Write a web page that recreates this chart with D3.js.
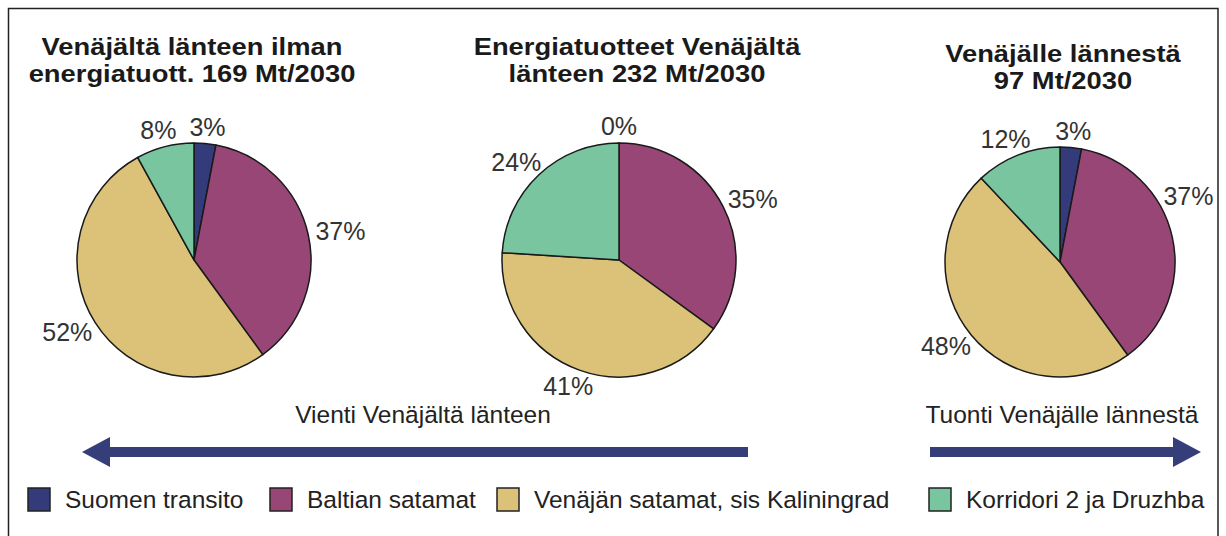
<!DOCTYPE html>
<html>
<head>
<meta charset="utf-8">
<script src="https://cdn.jsdelivr.net/npm/d3@7"></script>
<style>
  body { margin: 0; background: #fff; }
  svg { display: block; font-family: "Liberation Sans", Arial, Helvetica, sans-serif; }
</style>
</head>
<body>
<div id="chart"></div>
<script>
// categories (legend order = slice order clockwise from 12 o'clock)
const categories = ["Suomen transito", "Baltian satamat", "Venäjän satamat, sis Kaliningrad", "Korridori 2 ja Druzhba"];
const colors = ["#343b7a", "#984676", "#dcc278", "#79c5a0"];

// pie titles (two lines each)
const titles = [
  ["Venäjältä länteen ilman", "energiatuott. 169 Mt/2030"],
  ["Energiatuotteet Venäjältä", "länteen 232 Mt/2030"],
  ["Venäjälle lännestä", "97 Mt/2030"]
];

// shares in percent, same order as categories
const westNoEnergy = [3, 37, 52, 8];
const westEnergy = [0, 35, 41, 24];
const eastFromWest = [3, 37, 48, 12];

const arrowLabels = ["Vienti Venäjältä länteen", "Tuonti Venäjälle lännestä"];

const width = 1226, height = 536;
const frameRight = 1218;

const svg = d3.select("#chart").append("svg")
    .attr("width", width)
    .attr("height", height);

// frame
svg.append("rect")
    .attr("x", 8.5).attr("y", 8.5)
    .attr("width", frameRight - 8.5).attr("height", 540)
    .attr("fill", "none")
    .attr("stroke", "#222")
    .attr("stroke-width", 1.5);

const pies = [
  { data: westNoEnergy, cx: 194, cy: 260, r: 117, tx: 192, ty: 55 },
  { data: westEnergy,   cx: 619, cy: 260, r: 117, tx: 637, ty: 55 },
  { data: eastFromWest, cx: 1060, cy: 262, r: 115, tx: 1063, ty: 62 }
];

const pie = d3.pie().sort(null).value((d) => d);

pies.forEach((p, i) => {
  const g = svg.append("g").attr("transform", `translate(${p.cx},${p.cy})`);
  const arc = d3.arc().innerRadius(0).outerRadius(p.r);
  const arcs = pie(p.data);

  g.selectAll("path")
    .data(arcs)
    .enter()
    .append("path")
      .attr("d", arc)
      .attr("fill", (d, j) => colors[j])
      .attr("stroke", "#1a1a1a")
      .attr("stroke-width", 1.5)
      .attr("stroke-linejoin", "round");

  // percent labels outside the slices
  const labels = g.selectAll(".pct")
    .data(arcs)
    .enter()
    .append("text")
      .attr("class", "pct")
      .attr("text-anchor", "middle")
      .attr("font-size", 25)
      .attr("fill", "#333")
      .text((d) => d.data + "%");

  labels.each(function(d) {
    let a = (d.startAngle + d.endAngle) / 2;
    const hw = this.getComputedTextLength() / 2;
    const R = p.r + 8;
    // keep the label inside the frame by sliding it up along the circle
    while (p.cx + Math.sin(a) * (R + hw) + hw > frameRight - 4 && a > 0) a -= 0.01;
    const x = Math.sin(a) * (R + hw);
    const y = -Math.cos(a) * (R + 9);
    d3.select(this).attr("x", x).attr("y", y + 9);
  });

  // title, slightly stretched sideways like the original lettering
  const t = svg.append("g")
      .attr("transform", `translate(${p.tx},0) scale(1.14,1)`)
    .append("text")
      .attr("text-anchor", "middle")
      .attr("font-size", 24)
      .attr("font-weight", "bold")
      .attr("fill", "#1a1a1a");
  titles[i].forEach((line, k) => {
    t.append("tspan")
      .attr("x", 0)
      .attr("y", p.ty + k * 27.2)
      .text(line);
  });
});

// arrows
const arrowColor = "#363e7a";
const arrowY = 452;
function arrow(x1, x2) {
  // x2 is the tip
  const dir = Math.sign(x2 - x1);
  const head = 28, half = 15, thick = 5;
  const base = x2 - dir * head;
  const pts = [
    [x1, arrowY - thick], [base, arrowY - thick], [base, arrowY - half],
    [x2, arrowY], [base, arrowY + half], [base, arrowY + thick], [x1, arrowY + thick]
  ];
  svg.append("path")
    .attr("d", d3.line()(pts) + "Z")
    .attr("fill", arrowColor);
}
arrow(748, 82);
arrow(930, 1201);

svg.append("text")
  .attr("x", 423).attr("y", 423)
  .attr("text-anchor", "middle")
  .attr("font-size", 24.5)
  .attr("fill", "#222")
  .text(arrowLabels[0]);
svg.append("text")
  .attr("x", 1062).attr("y", 423)
  .attr("text-anchor", "middle")
  .attr("font-size", 24.5)
  .attr("fill", "#222")
  .text(arrowLabels[1]);

// legend
const legendX = [28, 270, 497, 929];
const legend = svg.append("g").selectAll("g")
  .data(categories)
  .enter()
  .append("g")
    .attr("transform", (d, i) => `translate(${legendX[i]},488)`);

legend.append("rect")
  .attr("width", 22).attr("height", 23)
  .attr("fill", (d, i) => colors[i])
  .attr("stroke", "#222")
  .attr("stroke-width", 1.5);

legend.append("text")
  .attr("x", 37).attr("y", 20)
  .attr("font-size", 24.5)
  .attr("fill", "#222")
  .text((d) => d);
</script>
</body>
</html>
